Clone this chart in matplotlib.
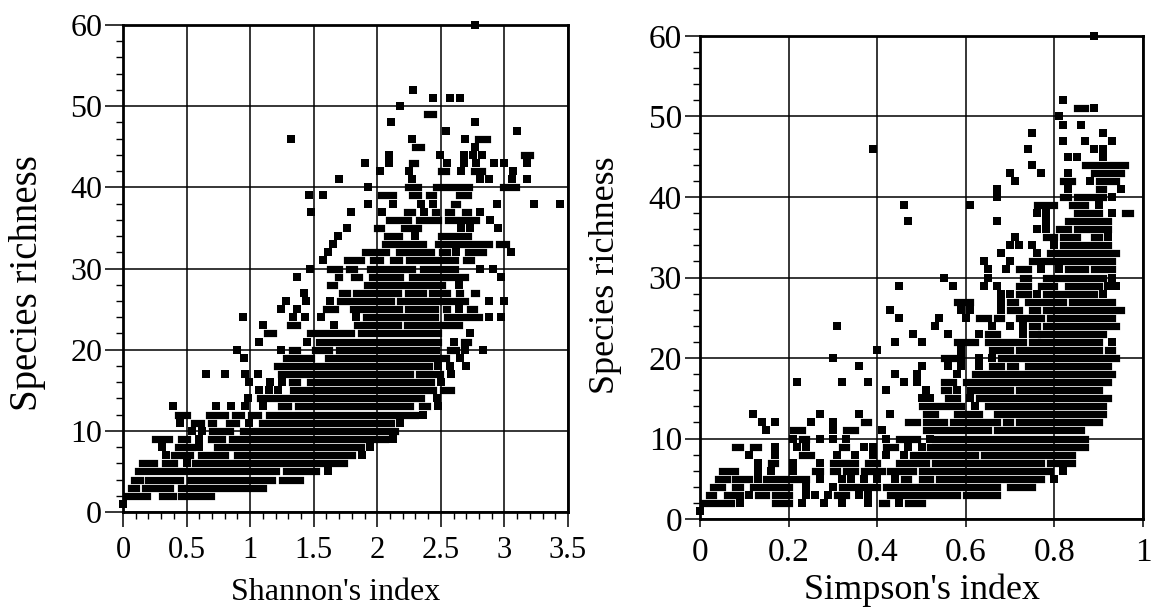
import matplotlib
matplotlib.use('Agg')
import matplotlib.pyplot as plt

# Richness values are whole numbers. Isolated squares are listed as points,
# stretches where the squares merge are listed as runs (first x, last x).

shannon_point_y = [
    60, 52, 51, 51, 51, 50, 48, 48, 47, 47, 46, 46, 46, 45,
    44, 44, 44, 44, 44,
    43, 43, 43, 43, 43, 43, 43, 43,
    42, 42, 42, 42,
    41, 41, 41, 41, 41, 41,
    40, 39, 39,
    38, 38, 38, 38, 38, 38, 38,
    37, 37, 37, 37, 37,
    36, 35, 35, 35, 35, 34, 34, 33, 32, 32, 32, 31, 30, 30, 30, 29, 29, 28, 27,
    26, 26, 26, 26, 26,
    25, 25, 25,
    24, 24, 24, 24, 24, 24, 24,
    23, 23, 22, 21, 21, 21, 20, 20, 20, 20, 19, 19, 18, 18, 18,
    17, 17, 17, 17, 17,
    16, 16, 16, 16,
    15, 15, 15, 14, 14,
    13, 13, 13, 13, 13, 13,
    12, 11, 11, 11, 10, 10, 9, 9, 8, 8, 8, 7, 7, 6, 5, 1,
]
shannon_point_x = [
    2.77, 2.28, 2.44, 2.57, 2.65, 2.18, 2.11, 2.77, 2.54, 3.10, 1.32, 2.27, 2.69, 2.77,
    2.09, 2.49, 2.68, 2.75, 2.82,
    1.90, 2.09, 2.55, 2.68, 2.78, 2.92, 3.00, 3.18,
    2.02, 2.25, 2.66, 3.07,
    1.70, 2.27, 2.81, 2.88, 3.06, 3.18,
    1.93, 1.46, 1.57,
    1.93, 2.12, 2.34, 2.44, 2.94, 3.23, 3.44,
    1.48, 1.79, 2.04, 2.37, 2.81,
    2.89, 1.76, 2.66, 2.73, 2.95, 1.69, 2.30, 1.65, 1.61, 2.62, 3.05, 1.57, 1.47, 2.81, 2.91, 1.37, 2.97, 2.64, 1.42,
    1.28, 1.44, 1.63, 2.88, 3.00,
    1.24, 1.37, 2.64,
    0.94, 1.34, 1.43, 1.56, 1.83, 2.88, 2.97,
    1.10, 1.66, 2.73, 1.07, 1.45, 2.60, 0.90, 1.24, 2.69, 2.83, 0.95, 2.65, 2.48, 2.57, 2.70,
    0.65, 0.80, 0.96, 1.06, 2.58,
    0.99, 1.16, 1.25, 2.50,
    1.07, 1.15, 1.22, 0.98, 2.47,
    0.39, 0.73, 0.85, 0.96, 1.10, 2.48,
    2.36, 0.45, 0.99, 2.18, 0.54, 0.62, 0.60, 2.12, 0.31, 0.60, 1.94, 0.34, 1.88, 0.50, 1.61, 0.00,
]

shannon_run_y = [
    49, 46, 45, 44, 43, 42, 42,
    40, 40, 40,
    39, 39, 39, 39,
    38,
    37, 37, 37, 37,
    36, 36, 36,
    35, 35,
    34, 34,
    33, 33, 33,
    32, 32, 32, 32,
    31, 31, 31, 31, 31,
    30, 30, 30, 30,
    29, 29, 29, 29,
    28, 28,
    27, 27, 27, 27, 27, 27,
    26, 26,
    25, 25, 25, 25, 25,
    24, 24,
    23, 23, 23,
    22, 22, 22,
    21, 21,
    20, 20, 20, 20,
    19, 19,
    18,
    17, 17,
    16, 16,
    15, 15,
    14,
    13, 13, 13,
    12, 12, 12, 12, 12,
    11, 11, 11, 11,
    10, 10,
    9, 9, 9, 9,
    8, 8,
    7, 7, 7,
    6, 6, 6,
    5, 5,
    4, 4, 4, 4,
    3, 3, 3,
    2, 2, 2,
]
shannon_run_start = [
    2.39, 2.79, 2.30, 3.15, 2.27, 2.50, 2.76,
    2.24, 2.46, 2.99,
    2.03, 2.27, 2.41, 2.64,
    2.60,
    2.23, 2.45, 2.56, 2.69,
    2.09, 2.33, 2.56,
    2.00, 2.21,
    2.08, 2.50,
    2.06, 2.48, 2.96,
    1.90, 2.17, 2.51, 2.71,
    1.76, 1.97, 2.12, 2.25, 2.70,
    1.63, 1.78, 1.94, 2.36,
    1.69, 1.82, 1.96, 2.27,
    1.63, 1.92,
    1.72, 1.83, 2.24, 2.43, 2.64, 2.76,
    1.71, 2.18,
    1.60, 1.81, 2.24, 2.54, 2.73,
    1.91, 2.55,
    1.31, 1.84, 2.23,
    1.13, 1.47, 1.87,
    1.54, 2.68,
    1.33, 1.51, 1.70, 2.57,
    1.28, 1.61,
    1.21,
    1.24, 2.33,
    1.33, 1.47,
    1.34, 2.52,
    1.08,
    1.24, 1.38, 2.35,
    0.43, 0.68, 0.88, 1.01, 1.15,
    0.56, 0.69, 0.83, 1.09,
    0.70, 0.94,
    0.25, 0.46, 0.69, 0.86,
    0.43, 0.74,
    0.40, 0.61, 0.90,
    0.15, 0.33, 0.57,
    0.12, 1.28,
    0.09, 0.20, 0.53, 1.25,
    0.06, 0.17, 0.46,
    0.03, 0.31, 0.46,
]
shannon_run_end = [
    2.44, 2.86, 2.34, 3.20, 2.30, 2.54, 2.82,
    2.32, 2.72, 3.09,
    2.12, 2.32, 2.44, 2.71,
    2.63,
    2.27, 2.46, 2.58, 2.71,
    2.24, 2.48, 2.78,
    2.03, 2.32,
    2.17, 2.71,
    2.36, 2.88, 3.01,
    2.07, 2.42, 2.55, 2.83,
    1.87, 2.02, 2.17, 2.61, 2.74,
    1.70, 1.82, 2.27, 2.61,
    1.70, 1.86, 2.18, 2.69,
    1.66, 2.51,
    1.76, 2.16, 2.36, 2.55, 2.65, 2.78,
    2.11, 2.69,
    1.67, 2.17, 2.45, 2.55, 2.76,
    2.45, 2.80,
    1.37, 2.16, 2.64,
    1.18, 1.79, 2.48,
    2.48, 2.71,
    1.37, 1.62, 2.46, 2.62,
    1.48, 2.54,
    2.41,
    2.26, 2.49,
    1.37, 2.42,
    2.44, 2.58,
    2.34,
    1.30, 2.26, 2.39,
    0.50, 0.80, 0.93, 1.06, 2.30,
    0.61, 0.71, 0.89, 2.11,
    0.84, 2.14,
    0.36, 0.50, 0.78, 2.06,
    0.54, 1.87,
    0.53, 0.80, 1.80,
    0.24, 0.40, 1.74,
    1.20, 1.52,
    0.13, 0.45, 1.17, 1.39,
    0.10, 0.37, 1.10,
    0.19, 0.39, 0.69,
]

simpson_point_y = [
    60, 52, 51, 50,
    49, 49,
    48, 48,
    47, 47, 47,
    46, 46, 46, 46,
    45, 45, 45,
    44,
    43, 43, 43,
    42, 42,
    41, 41, 41,
    40, 40,
    39, 39, 39,
    38, 38, 38,
    37, 37, 37,
    36, 36,
    35, 35,
    34, 34, 34, 34,
    33, 33,
    32, 32,
    31, 31, 31, 31,
    30, 30, 30,
    29, 29, 29, 29, 29, 29,
    28, 28, 28, 28,
    27,
    26, 26, 26, 26,
    25, 25, 25,
    24, 24, 24, 24, 24,
    23, 23, 23, 23,
    22, 22, 22,
    21, 21,
    20, 20, 20, 20,
    19, 19, 19, 19, 19,
    18, 18, 18,
    17, 17, 17, 17, 17,
    16, 16, 16,
    15, 15, 15,
    14,
    13, 13, 13, 13,
    12, 12, 12, 12,
    11, 11, 11,
    10, 10, 10, 10, 10, 10,
    9, 9, 9, 9, 9, 9, 9,
    8, 8, 8, 8, 8, 8, 8,
    7, 7, 7,
    6, 6, 6, 6,
    5, 5, 5, 5, 5, 5, 5, 5,
    4, 4,
    3, 3, 3, 3, 3, 3,
    2, 2, 2, 2, 2, 2,
    1,
]
simpson_point_x = [
    0.89, 0.82, 0.89, 0.81,
    0.82, 0.86,
    0.75, 0.91,
    0.82, 0.87, 0.93,
    0.39, 0.74, 0.89, 0.91,
    0.83, 0.85, 0.91,
    0.75,
    0.70, 0.77, 0.83,
    0.71, 0.88,
    0.67, 0.83, 0.95,
    0.67, 0.93,
    0.46, 0.61, 0.90,
    0.76, 0.78, 0.93,
    0.47, 0.67, 0.78,
    0.76, 0.78,
    0.71, 0.92,
    0.70, 0.72, 0.75, 0.80,
    0.68, 0.76,
    0.64, 0.70,
    0.65, 0.69, 0.77, 0.81,
    0.55, 0.65, 0.93,
    0.45, 0.57, 0.64, 0.67, 0.92, 0.94,
    0.68, 0.70, 0.76, 0.91,
    0.68,
    0.43, 0.59, 0.61, 0.68,
    0.45, 0.54, 0.60,
    0.31, 0.53, 0.66, 0.70, 0.73,
    0.48, 0.56, 0.63, 0.73,
    0.44, 0.50, 0.93,
    0.40, 0.59,
    0.30, 0.59, 0.63, 0.66,
    0.36, 0.50, 0.56, 0.59, 0.63,
    0.44, 0.49, 0.58,
    0.22, 0.32, 0.38, 0.46, 0.49,
    0.42, 0.51, 0.58,
    0.50, 0.52, 0.61,
    0.62,
    0.12, 0.27, 0.36, 0.43,
    0.14, 0.17, 0.25, 0.30,
    0.15, 0.30, 0.41,
    0.21, 0.27, 0.30, 0.33, 0.42, 0.52,
    0.17, 0.22, 0.24, 0.37, 0.39, 0.47, 0.50,
    0.11, 0.17, 0.31, 0.35, 0.39, 0.42, 0.46,
    0.13, 0.21, 0.27,
    0.13, 0.16, 0.21, 0.82,
    0.13, 0.27, 0.32, 0.34, 0.37, 0.40, 0.44, 0.80,
    0.24, 0.30,
    0.11, 0.24, 0.26, 0.29, 0.36, 0.38,
    0.09, 0.23, 0.28, 0.32, 0.38, 0.45,
    0.00,
]

simpson_run_y = [
    51,
    44,
    43,
    42, 42,
    41,
    40, 40,
    39, 39,
    38, 38,
    37,
    36, 36,
    35, 35, 35,
    34,
    33,
    32,
    31, 31, 31,
    30, 30,
    29, 29, 29,
    28, 28,
    27, 27, 27, 27,
    26, 26, 26,
    25, 25, 25, 25,
    24, 24,
    23, 23, 23,
    22, 22, 22,
    21, 21, 21,
    20, 20,
    19, 19, 19,
    18,
    17, 17,
    16, 16, 16,
    15, 15,
    14, 14,
    13, 13, 13,
    12, 12, 12, 12, 12, 12,
    11, 11, 11, 11,
    10, 10, 10,
    9, 9, 9, 9, 9,
    8, 8, 8,
    7, 7, 7, 7, 7, 7,
    6, 6, 6, 6, 6, 6, 6,
    5, 5, 5, 5, 5, 5,
    4, 4, 4, 4, 4, 4,
    3, 3, 3, 3, 3, 3, 3,
    2, 2, 2, 2,
]
simpson_run_start = [
    0.85,
    0.87,
    0.89,
    0.82, 0.90,
    0.90,
    0.82, 0.85,
    0.76, 0.84,
    0.85, 0.96,
    0.83,
    0.81, 0.85,
    0.78, 0.82, 0.89,
    0.82,
    0.79,
    0.75,
    0.72, 0.83, 0.89,
    0.73, 0.78,
    0.72, 0.77, 0.83,
    0.72, 0.78,
    0.58, 0.70, 0.74, 0.84,
    0.70, 0.75, 0.78,
    0.63, 0.67, 0.72, 0.79,
    0.75, 0.78,
    0.65, 0.75, 0.77,
    0.58, 0.65, 0.75,
    0.66, 0.72, 0.92,
    0.55, 0.68,
    0.66, 0.70, 0.74,
    0.62,
    0.55, 0.60,
    0.55, 0.61, 0.72,
    0.56, 0.63,
    0.50, 0.65,
    0.51, 0.58, 0.67,
    0.37, 0.47, 0.51, 0.57, 0.69, 0.72,
    0.21, 0.33, 0.51, 0.67,
    0.23, 0.45, 0.53,
    0.08, 0.12, 0.32, 0.42, 0.52,
    0.23, 0.48, 0.64,
    0.16, 0.30, 0.38, 0.45, 0.53, 0.79,
    0.05, 0.26, 0.30, 0.33, 0.37, 0.43, 0.50,
    0.04, 0.08, 0.15, 0.46, 0.50, 0.54,
    0.03, 0.08, 0.12, 0.32, 0.42, 0.70,
    0.02, 0.06, 0.13, 0.17, 0.31, 0.43, 0.60,
    0.01, 0.17, 0.41, 0.47,
]
simpson_run_end = [
    0.87,
    0.96,
    0.95,
    0.84, 0.94,
    0.91,
    0.83, 0.91,
    0.80, 0.87,
    0.90, 0.97,
    0.92,
    0.83, 0.92,
    0.80, 0.85, 0.90,
    0.92,
    0.94,
    0.93,
    0.74, 0.87, 0.93,
    0.74, 0.91,
    0.74, 0.80, 0.90,
    0.74, 0.89,
    0.61, 0.71, 0.82, 0.93,
    0.72, 0.76, 0.95,
    0.65, 0.68, 0.77, 0.93,
    0.76, 0.94,
    0.67, 0.76, 0.91,
    0.62, 0.73, 0.90,
    0.70, 0.90, 0.93,
    0.57, 0.94,
    0.68, 0.71, 0.92,
    0.93,
    0.57, 0.92,
    0.56, 0.70, 0.90,
    0.58, 0.92,
    0.59, 0.91,
    0.53, 0.63, 0.91,
    0.38, 0.49, 0.55, 0.67, 0.70, 0.90,
    0.23, 0.35, 0.65, 0.86,
    0.24, 0.49, 0.87,
    0.09, 0.13, 0.33, 0.44, 0.87,
    0.25, 0.62, 0.84,
    0.17, 0.35, 0.40, 0.51, 0.77, 0.84,
    0.08, 0.27, 0.31, 0.35, 0.41, 0.48, 0.79,
    0.06, 0.11, 0.24, 0.47, 0.52, 0.77,
    0.05, 0.09, 0.20, 0.40, 0.67, 0.75,
    0.03, 0.09, 0.15, 0.20, 0.33, 0.58, 0.67,
    0.07, 0.20, 0.42, 0.50,
]

y_major = [0, 10, 20, 30, 40, 50, 60]
y_minor = [2, 4, 6, 8, 12, 14, 16, 18, 22, 24, 26, 28, 32, 34, 36, 38,
           42, 44, 46, 48, 52, 54, 56, 58]
shannon_ticks = [0, 0.5, 1, 1.5, 2, 2.5, 3, 3.5]
shannon_labels = ['0', '0.5', '1', '1.5', '2', '2.5', '3', '3.5']
shannon_minor = [0.1, 0.2, 0.3, 0.4, 0.6, 0.7, 0.8, 0.9, 1.1, 1.2, 1.3, 1.4,
                 1.6, 1.7, 1.8, 1.9, 2.1, 2.2, 2.3, 2.4, 2.6, 2.7, 2.8, 2.9,
                 3.1, 3.2, 3.3, 3.4]
simpson_ticks = [0, 0.2, 0.4, 0.6, 0.8, 1]
simpson_labels = ['0', '0.2', '0.4', '0.6', '0.8', '1']

plt.rcParams['font.family'] = ['Liberation Serif', 'DejaVu Serif']


def draw_panel(ax, point_x, point_y, run_y, run_start, run_end, xmax, ticks, labels, minor):
    ax.set_xlim(0, xmax)
    ax.set_ylim(0, 60)
    ax.grid(True, which='major', color='black', linewidth=1.1, zorder=1)
    ax.set_axisbelow(True)

    ax.hlines(run_y, run_start, run_end, colors='black', linewidth=5.2,
              capstyle='projecting', zorder=3, clip_on=False)
    ax.scatter(point_x, point_y, marker='s', s=30, color='black', linewidths=0,
               zorder=3, clip_on=False)

    ax.set_xticks(ticks)
    ax.set_xticklabels(labels)
    ax.set_xticks(minor, minor=True)
    ax.set_yticks(y_major)
    ax.set_yticks(y_minor, minor=True)
    ax.tick_params(which='minor', length=5, width=1.0)
    for spine in ax.spines.values():
        spine.set_linewidth(2.0)


fig = plt.figure(figsize=(11.51, 6.10), dpi=100)
ax_left = fig.add_axes([123 / 1151, 98 / 610, 445 / 1151, 487 / 610])
ax_right = fig.add_axes([700 / 1151, 91 / 610, 443 / 1151, 483 / 610])

draw_panel(ax_left, shannon_point_x, shannon_point_y, shannon_run_y, shannon_run_start,
           shannon_run_end, 3.5, shannon_ticks, shannon_labels, shannon_minor)
draw_panel(ax_right, simpson_point_x, simpson_point_y, simpson_run_y, simpson_run_start,
           simpson_run_end, 1, simpson_ticks, simpson_labels, [])

ax_left.tick_params(axis='x', which='major', length=11, width=1.1, labelsize=22, pad=6)
ax_left.tick_params(axis='y', which='major', length=13, width=1.1, labelsize=23, pad=2)
ax_right.tick_params(axis='x', which='major', length=6, width=1.1, labelsize=24, pad=7)
ax_right.tick_params(axis='y', which='major', length=11, width=1.1, labelsize=24, pad=2)

# axis titles sit at fixed places on the page, the scan is stretched a bit in height
ax_left.set_xlabel("Shannon's index", fontsize=23, va='center')
ax_left.xaxis.set_label_coords(336 / 1151, 1 - 592 / 610, transform=fig.transFigure)
ax_left.set_ylabel('Species richness', fontsize=28, va='center')
ax_left.yaxis.set_label_coords(28 / 1151, 1 - 283 / 610, transform=fig.transFigure)
ax_right.set_xlabel("Simpson's index", fontsize=26, va='center')
ax_right.xaxis.set_label_coords(922 / 1151, 1 - 590 / 610, transform=fig.transFigure)
ax_right.set_ylabel('Species richness', fontsize=26, va='center')
ax_right.yaxis.set_label_coords(606 / 1151, 1 - 275 / 610, transform=fig.transFigure)

fig.savefig('out.png', dpi=100)
